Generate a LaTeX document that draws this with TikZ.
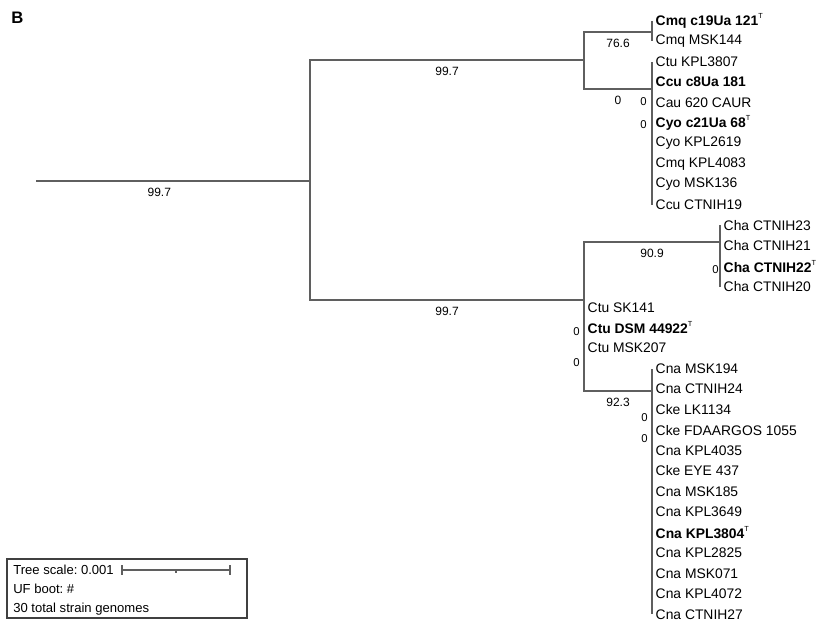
\documentclass[tikz,border=0pt]{standalone}
\usepackage{fontspec}
\setmainfont{Liberation Sans}
\usepackage{tikz}
\usetikzlibrary{positioning, calc}
\frenchspacing

\definecolor{branchgray}{RGB}{95,95,95}
\newcommand{\typestrain}{\raisebox{0.9ex}{\fontsize{5.5}{6}\selectfont T}}

\begin{document}
\begin{tikzpicture}[x=0.75pt, y=-0.75pt,
    branch/.style={draw=branchgray, line width=1pt},
    leaf/.style={anchor=west, inner xsep=2.6pt, inner ysep=0pt, font=\fontsize{10.4}{12}\selectfont},
    boot/.style={below=3.5pt, inner sep=1pt, font=\fontsize{9}{10}\selectfont},
    zero/.style={anchor=east, inner sep=0pt, font=\fontsize{8.5}{10}\selectfont},
    legendtext/.style={anchor=west, inner sep=0pt, font=\fontsize{9.8}{11}\selectfont}]
  \useasboundingbox (0,0) rectangle (817,622);

  \node[anchor=west, inner sep=0pt, font=\fontsize{12.5}{14}\bfseries] (panel) at (11,18) {B};

  % inner nodes of the tree
  \coordinate (r)  at (36,181);
  \coordinate (n1) at (310,181);
  \coordinate (n2) at (584,60);
  \coordinate (n3) at (652,32);
  \coordinate (n4) at (652,89);
  \coordinate (n5) at (584,300);
  \coordinate (n6) at (720,242);
  \coordinate (n7) at (652,391);

  % leaves
  \node[leaf] (c1)  at (652,20.7)  {\textbf{Cmq c19Ua 121}\typestrain};
  \node[leaf] (c2)  at (652,41.2)  {Cmq MSK144};
  \node[leaf] (c3)  at (652,61.6)  {Ctu KPL3807};
  \node[leaf] (c4)  at (652,82.1)  {\textbf{Ccu c8Ua 181}};
  \node[leaf] (c5)  at (652,102.6) {Cau 620 CAUR};
  \node[leaf] (c6)  at (652,123.1) {\textbf{Cyo c21Ua 68}\typestrain};
  \node[leaf] (c7)  at (652,143.5) {Cyo KPL2619};
  \node[leaf] (c8)  at (652,164.0) {Cmq KPL4083};
  \node[leaf] (c9)  at (652,184.5) {Cyo MSK136};
  \node[leaf] (c10) at (652,205.0) {Ccu CTNIH19};
  \node[leaf] (c11) at (720,225.4) {Cha CTNIH23};
  \node[leaf] (c12) at (720,245.9) {Cha CTNIH21};
  \node[leaf] (c13) at (720,266.3) {\textbf{Cha CTNIH22}\typestrain};
  \node[leaf] (c14) at (720,286.8) {Cha CTNIH20};
  \node[leaf] (c15) at (584,307.3) {Ctu SK141};
  \node[leaf] (c16) at (584,327.7) {\textbf{Ctu DSM 44922}\typestrain};
  \node[leaf] (c17) at (584,348.2) {Ctu MSK207};
  \node[leaf] (c18) at (652,368.7) {Cna MSK194};
  \node[leaf] (c19) at (652,389.2) {Cna CTNIH24};
  \node[leaf] (c20) at (652,409.6) {Cke LK1134};
  \node[leaf] (c21) at (652,430.1) {Cke FDAARGOS 1055};
  \node[leaf] (c22) at (652,450.6) {Cna KPL4035};
  \node[leaf] (c23) at (652,471.0) {Cke EYE 437};
  \node[leaf] (c24) at (652,491.5) {Cna MSK185};
  \node[leaf] (c25) at (652,512.0) {Cna KPL3649};
  \node[leaf] (c26) at (652,532.5) {\textbf{Cna KPL3804}\typestrain};
  \node[leaf] (c27) at (652,552.9) {Cna KPL2825};
  \node[leaf] (c28) at (652,573.4) {Cna MSK071};
  \node[leaf] (c29) at (652,593.9) {Cna KPL4072};
  \node[leaf] (c30) at (652,614.3) {Cna CTNIH27};

  % branches with UF boot values
  \draw[branch] (r) -- node[boot, pos=0.45] {99.7} (n1);
  \draw[branch] (n1) |- node[boot, pos=0.75] {99.7} (n2);
  \draw[branch] (n1) |- node[boot, pos=0.75] {99.7} (n5);
  \draw[branch] (n2) |- node[boot, pos=0.75] {76.6} (n3);
  \draw[branch] (n2) |- node[boot, pos=0.75] {0} (n4);
  \draw[branch] (n5) |- node[boot, pos=0.75] {90.9} (n6);
  \draw[branch] (n5) |- node[boot, pos=0.75] {92.3} (n7);
  \foreach \i in {1,2}       \draw[branch] (n3) |- (c\i.west);
  \foreach \i in {3,...,10}  \draw[branch] (n4) |- (c\i.west);
  \foreach \i in {11,...,14} \draw[branch] (n6) |- (c\i.west);
  \foreach \i in {15,16,17}  \draw[branch] (n5) |- (c\i.west);
  \foreach \i in {18,...,30} \draw[branch] (n7) |- (c\i.west);

  % zero-length branch values
  \node[zero] (z1) at (647,102) {0};
  \node[zero] (z2) at (647,125) {0};
  \node[zero] (z3) at (719,270) {0};
  \node[zero] (z4) at (580,332) {0};
  \node[zero] (z5) at (580,363) {0};
  \node[zero] (z6) at (648,418) {0};
  \node[zero] (z7) at (648,439) {0};

  % legend
  \draw[black!75, line width=0.8pt] (7,559) rectangle (247,618);
  \node[legendtext] (scale) at (13,570) {Tree scale: 0.001};
  \node[legendtext] (boots) at (13,589) {UF boot: \#};
  \node[legendtext] (total) at (13,609) {30 total strain genomes};
  \coordinate (sb0) at (122,570);
  \coordinate (sb1) at (230,570);
  \draw[branchgray, line width=0.8pt] (sb0) -- (sb1);
  \draw[branchgray, line width=0.8pt] ([yshift=-3.5]sb0) -- ([yshift=3.5]sb0);
  \draw[branchgray, line width=0.8pt] ([yshift=-3.5]sb1) -- ([yshift=3.5]sb1);
  \draw[branchgray, line width=0.8pt] ($(sb0)!0.5!(sb1)$) -- ++(0,2.5);
\end{tikzpicture}
\end{document}
